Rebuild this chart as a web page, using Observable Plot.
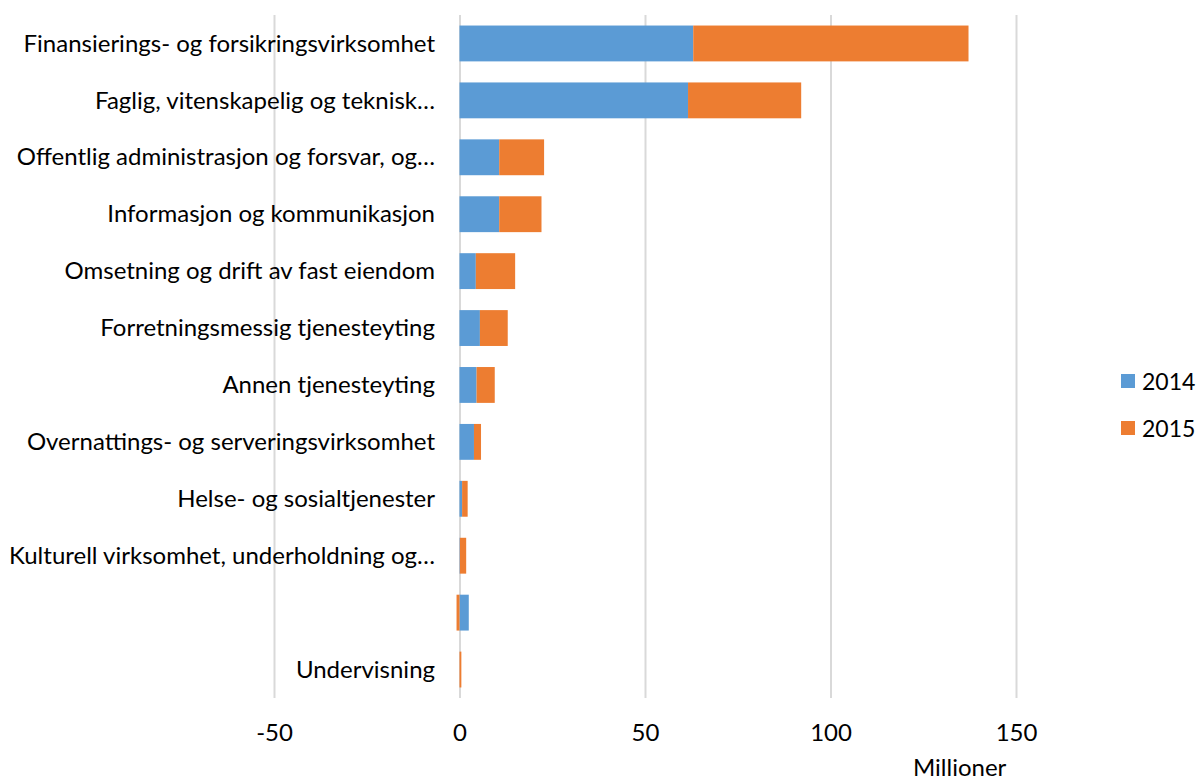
<!DOCTYPE html>
<html>
<head>
<meta charset="utf-8">
<script src="https://cdn.jsdelivr.net/npm/d3@7"></script>
<script src="https://cdn.jsdelivr.net/npm/@observablehq/plot@0.6"></script>
<style>
  html, body { margin: 0; padding: 0; background: #fff; }
  #wrap { position: relative; width: 1200px; height: 783px; overflow: hidden; font-family: Lato, "Open Sans", sans-serif; }
  .leg { position: absolute; left: 1121px; font-size: 23px; line-height: 28px; color: #000; display: flex; align-items: center; }
  .leg span.sw { display: inline-block; width: 14px; height: 14px; margin-right: 7px; }
  #unit { position: absolute; left: 913px; top: 754px; font-size: 24px; line-height: 26px; color: #000; }
</style>
</head>
<body>
<div id="wrap"></div>
<script>
const categories = [
  "Finansierings- og forsikringsvirksomhet",
  "Faglig, vitenskapelig og teknisk…",
  "Offentlig administrasjon og forsvar, og…",
  "Informasjon og kommunikasjon",
  "Omsetning og drift av fast eiendom",
  "Forretningsmessig tjenesteyting",
  "Annen tjenesteyting",
  "Overnattings- og serveringsvirksomhet",
  "Helse- og sosialtjenester",
  "Kulturell virksomhet, underholdning og…",
  "",
  "Undervisning"
];
const years = ["2014", "2015"];
const v2014 = [63.0, 61.6, 10.7, 10.7, 4.4, 5.5, 4.6, 3.9, 0.7, 0.1, 2.5, 0.0];
const v2015 = [74.2, 30.5, 12.1, 11.4, 10.6, 7.5, 4.9, 1.9, 1.5, 1.7, -0.8, 0.5];
const xTicks = [-50, 0, 50, 100, 150];
const colors = ["#5B9BD5", "#ED7D31"];
const unitLabel = "Millioner";

const data = [];
categories.forEach((c, i) => {
  data.push({cat: c, year: years[0], value: v2014[i]});
  data.push({cat: c, year: years[1], value: v2015[i]});
});

const font = "Lato, 'Open Sans', sans-serif";

const chart = Plot.plot({
  width: 1200,
  height: 783,
  marginLeft: 274,
  marginRight: 184,
  marginTop: 15,
  marginBottom: 85,
  style: {fontFamily: font, fontSize: "24px", color: "#000", background: "#fff"},
  x: {domain: [-50, 150], axis: null, label: null},
  y: {domain: categories, paddingInner: 0.37, paddingOuter: 0.185, round: false, axis: null},
  color: {domain: years, range: colors},
  marks: [
    Plot.ruleX(xTicks, {stroke: "#d9d9d9", strokeWidth: 2}),
    Plot.barX(data, Plot.stackX({x: "value", y: "cat", fill: "year", order: null})),
    Plot.text(categories, {x: 0, y: d => d, text: d => d, textAnchor: "end", dx: -25, fontSize: 24, fill: "#000"}),
    Plot.axisX(xTicks, {tickSize: 0, tickPadding: 25, fontSize: 24, tickFormat: d => String(d), fill: "#000", label: null})
  ]
});

const wrap = document.getElementById("wrap");
wrap.appendChild(chart);

years.forEach((y, i) => {
  const d = document.createElement("div");
  d.className = "leg";
  d.style.top = (367 + i * 47) + "px";
  d.innerHTML = `<span class="sw" style="background:${colors[i]}"></span><span>${y}</span>`;
  wrap.appendChild(d);
});
const u = document.createElement("div");
u.id = "unit";
u.textContent = unitLabel;
wrap.appendChild(u);
</script>
</body>
</html>
